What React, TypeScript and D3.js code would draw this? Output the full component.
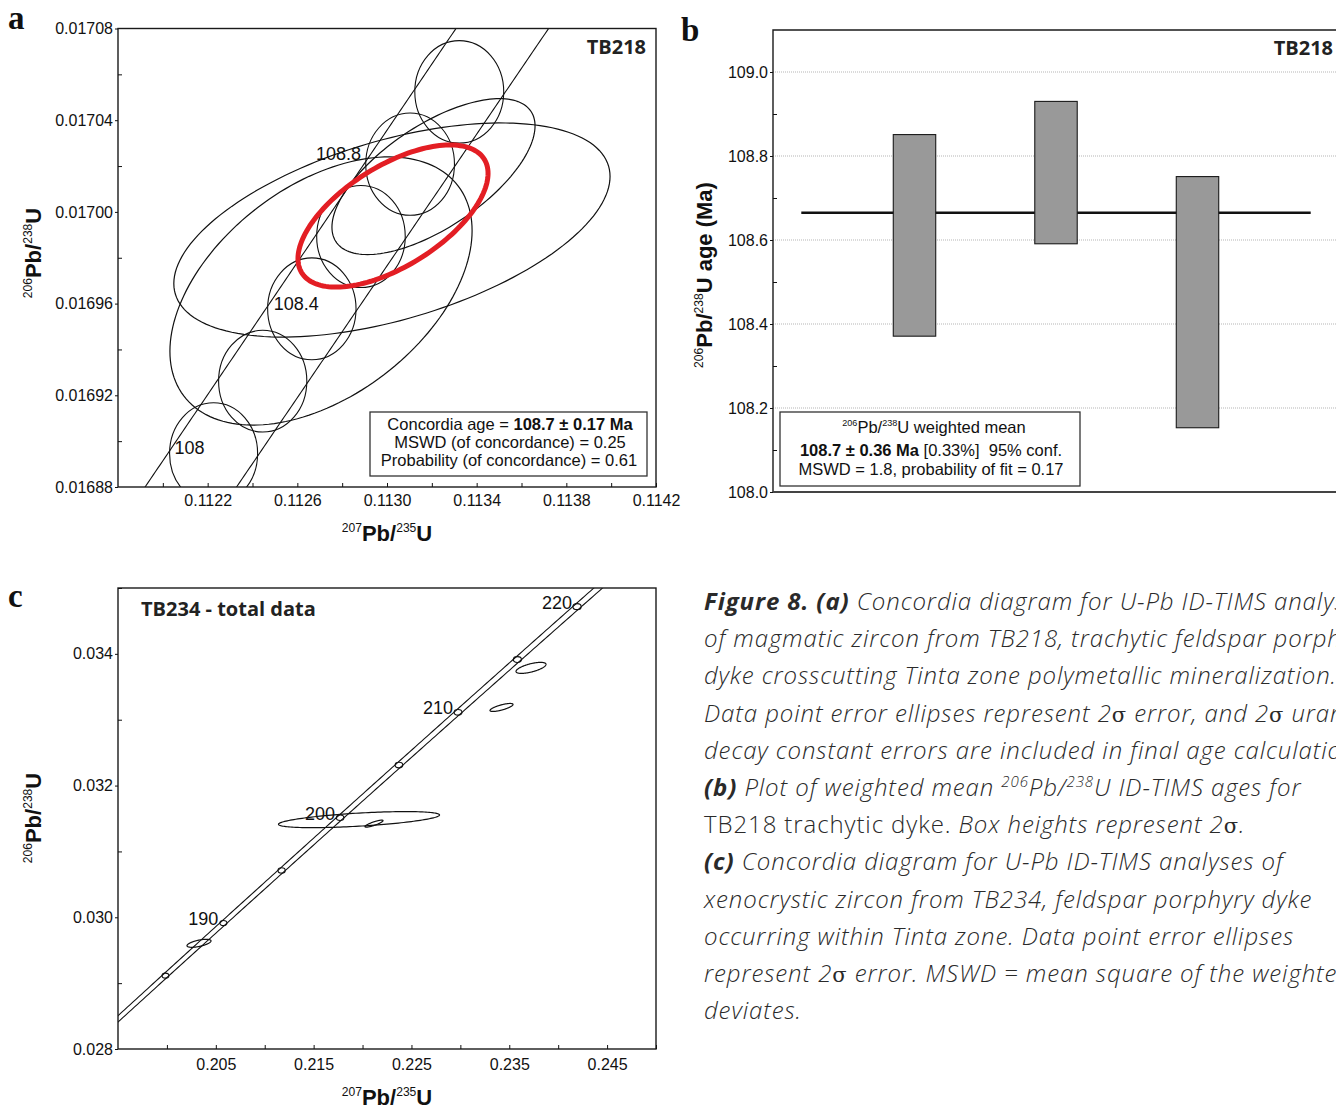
"use client";
import * as d3 from 'd3';
import { useEffect, useRef } from 'react';

const W = 1336;
const H = 1111;
const SANS = "'Liberation Sans', Arial, sans-serif";
const MYRIAD = "'Open Sans', 'Noto Sans', sans-serif";

// U decay constants (1/Ma), used for the concordia reference curve
const L238 = 1.55125e-4;
const L235 = 9.8485e-4;
// decay-constant envelope half-width and age-marker ellipse size, relative to the ratios
const BAND_REL = 0.00182;
const MARK_RX = 0.00175;
const MARK_RY = 0.00131;

// ---- a: TB218 concordia diagram
const aXTicks = [0.1122, 0.1126, 0.113, 0.1134, 0.1138, 0.1142];
const aXMinor = [0.112, 0.1124, 0.1128, 0.1132, 0.1136, 0.114];
const aYTicks = [0.01688, 0.01692, 0.01696, 0.017, 0.01704, 0.01708];
const aYMinor = [0.0169, 0.01694, 0.01698, 0.01702, 0.01706];
const aMarkers = [108, 108.2, 108.4, 108.6, 108.8, 109];
const aLabels = [108, 108.4, 108.8];
// data-point error ellipses: 207Pb/235U, 2s, 206Pb/238U, 2s, rho
const aR75 = [0.113022, 0.1127056, 0.1132074];
const aR75err = [0.000973, 0.000674, 0.000453];
const aR68 = [0.0169921, 0.0169655, 0.0170154];
const aR68err = [0.0000467, 0.0000585, 0.000034];
const aRho = [0.5, 0.45, 0.65];
// concordia age ellipse (red)
const aBest = { r75: 0.1130268, s75: 0.000424, r68: 0.0169982, s68: 0.000031, rho: 0.6 };

// ---- b: weighted mean 206Pb/238U ages
const bIndex = [1, 2, 3];
const bAge = [108.611, 108.7605, 108.452];
const bErr = [0.24, 0.1695, 0.299];
const bMean = 108.665;
const bMeanSpan = [0.2, 3.8];
const bYTicks = [108.0, 108.2, 108.4, 108.6, 108.8, 109.0];
const bYMinor = [108.1, 108.3, 108.5, 108.7, 108.9];

// ---- c: TB234 concordia, total data
const cXTicks = [0.205, 0.215, 0.225, 0.235, 0.245];
const cXMinor = [0.2, 0.21, 0.22, 0.23, 0.24, 0.25];
const cYTicks = [0.028, 0.03, 0.032, 0.034];
const cYMinor = [0.029, 0.031, 0.033, 0.035];
const cMarkers = [185, 190, 195, 200, 205, 210, 215, 220];
const cLabels = [190, 200, 210, 220];
const cR75 = [0.219638, 0.221171, 0.234206, 0.237222, 0.203281];
const cR75err = [0.00823, 0.00092, 0.001176, 0.001533, 0.001227];
const cR68 = [0.031483, 0.031422, 0.033186, 0.033787, 0.029605];
const cR68err = [0.000122, 0.0000532, 0.0000608, 0.0000837, 0.0000608];
const cRho = [0.58, 0.85, 0.75, 0.64, 0.6];

// ---- caption (style: bi bold italic, i italic, r roman, s superscript, g greek)
const caption: [string, string][][] = [
  [['Figure 8. (a)', 'bi'], [' Concordia diagram for U-Pb ID-TIMS analyses', 'i']],
  [['of magmatic zircon from TB218, trachytic feldspar porphyry', 'i']],
  [['dyke crosscutting Tinta zone polymetallic mineralization.', 'i']],
  [['Data point error ellipses represent 2', 'i'], ['σ', 'g'], [' error, and 2', 'i'], ['σ', 'g'], [' uranium', 'i']],
  [['decay constant errors are included in final age calculation.', 'i']],
  [['(b)', 'bi'], [' Plot of weighted mean ', 'i'], ['206', 's'], ['Pb/', 'i'], ['238', 's'], ['U ID-TIMS ages for', 'i']],
  [['TB218 trachytic dyke.', 'r'], [' Box heights represent 2', 'i'], ['σ', 'g'], ['.', 'i']],
  [['(c)', 'bi'], [' Concordia diagram for U-Pb ID-TIMS analyses of', 'i']],
  [['xenocrystic zircon from TB234, feldspar porphyry dyke', 'i']],
  [['occurring within Tinta zone. Data point error ellipses', 'i']],
  [['represent 2', 'i'], ['σ', 'g'], [' error. MSWD = mean square of the weighted', 'i']],
  [['deviates.', 'i']],
];

const concordia = (t: number): [number, number] => [Math.exp(L235 * t) - 1, Math.exp(L238 * t) - 1];

type Ell = { r75: number; s75: number; r68: number; s68: number; rho: number };

function ellipsePts(e: Ell, n = 160): [number, number][] {
  const k = Math.sqrt(1 - e.rho * e.rho);
  return d3.range(n).map((i) => {
    const s = (i / n) * 2 * Math.PI;
    return [e.r75 + e.s75 * Math.cos(s), e.r68 + e.s68 * (e.rho * Math.cos(s) + k * Math.sin(s))];
  });
}

// text with superscript parts: [text, 'sup' | 'b' | '']
function rich(text: any, parts: [string, string][], size: number) {
  let prevSup = false;
  parts.forEach(([t, st]) => {
    const ts = text.append('tspan').text(t);
    if (st.includes('b')) ts.attr('font-weight', 'bold');
    if (st === 'sup') {
      ts.attr('font-size', size * 0.55).attr('dy', prevSup ? 0 : -size * 0.4);
    } else if (prevSup) {
      ts.attr('dy', size * 0.4);
    }
    prevSup = st === 'sup';
  });
}

const ratioTitle = (a: string, b: string, extra = ''): [string, string][] => [
  [a, 'sup'], ['Pb/', 'b'], [b, 'sup'], ['U' + extra, 'b'],
];

function leftAxis(svg: any, y: any, left: number, major: number[], minor: number[], fmt: any, size: number) {
  svg.append('g').attr('transform', `translate(${left},0)`)
    .call(d3.axisLeft(y).tickValues(major).tickSize(3).tickPadding(2).tickFormat(fmt))
    .call((g: any) => g.select('.domain').remove())
    .call((g: any) => g.selectAll('text').attr('font-family', SANS).attr('font-size', size).attr('fill', '#111'))
    .call((g: any) => g.selectAll('line').attr('stroke', '#111'));
  svg.append('g').attr('transform', `translate(${left},0)`)
    .call(d3.axisLeft(y).tickValues(minor).tickSize(-4).tickFormat(() => ''))
    .call((g: any) => g.select('.domain').remove())
    .call((g: any) => g.selectAll('line').attr('stroke', '#111'));
}

function bottomAxis(svg: any, x: any, bottom: number, major: number[], minor: number[], fmt: any, size: number, pad: number) {
  svg.append('g').attr('transform', `translate(0,${bottom})`)
    .call(d3.axisBottom(x).tickValues(major).tickSize(-4).tickPadding(pad).tickFormat(fmt))
    .call((g: any) => g.select('.domain').remove())
    .call((g: any) => g.selectAll('text').attr('font-family', SANS).attr('font-size', size).attr('fill', '#111'))
    .call((g: any) => g.selectAll('line').attr('stroke', '#111'));
  svg.append('g').attr('transform', `translate(0,${bottom})`)
    .call(d3.axisBottom(x).tickValues(minor).tickSize(-4).tickFormat(() => ''))
    .call((g: any) => g.select('.domain').remove())
    .call((g: any) => g.selectAll('line').attr('stroke', '#111'));
}

function concordiaPanel(svg: any, o: any) {
  const x = d3.scaleLinear().domain(o.xDomain).range([o.left, o.right]);
  const y = d3.scaleLinear().domain(o.yDomain).range([o.bottom, o.top]);
  svg.append('clipPath').attr('id', o.id).append('rect')
    .attr('x', o.left).attr('y', o.top).attr('width', o.right - o.left).attr('height', o.bottom - o.top);
  const plot = svg.append('g').attr('clip-path', `url(#${o.id})`);
  const line = d3.line<[number, number]>().x((d) => x(d[0])).y((d) => y(d[1]));
  const closed = d3.line<[number, number]>().x((d) => x(d[0])).y((d) => y(d[1])).curve(d3.curveLinearClosed);

  // concordia with decay-constant error envelope
  const ts = d3.range(o.tFrom, o.tTo, o.tStep);
  [-1, 1].forEach((s) => {
    plot.append('path')
      .attr('d', line(ts.map((t) => {
        const [a, b] = concordia(t);
        return [a * (1 + s * BAND_REL), b] as [number, number];
      })))
      .attr('fill', 'none').attr('stroke', '#111').attr('stroke-width', 1.1);
  });
  o.markers.forEach((t: number) => {
    const [a, b] = concordia(t);
    plot.append('ellipse')
      .attr('cx', x(a)).attr('cy', y(b))
      .attr('rx', x(a * (1 + MARK_RX)) - x(a)).attr('ry', y(b) - y(b * (1 + MARK_RY)))
      .attr('fill', 'none').attr('stroke', '#111').attr('stroke-width', 1.1);
  });

  // age labels
  const lab = svg.append('g').attr('font-family', SANS).attr('font-size', 18).attr('fill', '#111');
  o.labels.forEach((t: number) => {
    const [a, b] = concordia(t);
    const [dx, dy] = o.labelOffset(t);
    lab.append('text').attr('x', x(a) + dx).attr('y', y(b) + dy).attr('text-anchor', 'end').text(String(t));
  });

  o.ellipses.forEach((e: Ell) => {
    plot.append('path').attr('d', closed(ellipsePts(e)))
      .attr('fill', 'none').attr('stroke', '#111').attr('stroke-width', 1.2);
  });
  if (o.best) {
    plot.append('path').attr('d', closed(ellipsePts(o.best)))
      .attr('fill', 'none').attr('stroke', '#e31e24').attr('stroke-width', 5);
  }

  svg.append('rect')
    .attr('x', o.left).attr('y', o.top).attr('width', o.right - o.left).attr('height', o.bottom - o.top)
    .attr('fill', 'none').attr('stroke', '#1a1a1a').attr('stroke-width', 1.4);

  leftAxis(svg, y, o.left, o.yTicks, o.yMinor, o.yFmt, 16);
  bottomAxis(svg, x, o.bottom, o.xTicks, o.xMinor, o.xFmt, 16, o.xPad);

  // axis titles
  rich(svg.append('text')
    .attr('transform', `translate(${o.yTitle[0]},${o.yTitle[1]}) rotate(-90)`)
    .attr('text-anchor', 'middle').attr('font-family', SANS).attr('font-size', 22).attr('fill', '#111'),
  ratioTitle('206', '238'), 22);
  rich(svg.append('text')
    .attr('x', o.xTitle[0]).attr('y', o.xTitle[1])
    .attr('text-anchor', 'middle').attr('font-family', SANS).attr('font-size', 22).attr('fill', '#111'),
  ratioTitle('207', '235'), 22);
  return { x, y };
}

function legendBox(svg: any, x: number, y: number, w: number, h: number) {
  svg.append('rect').attr('x', x).attr('y', y).attr('width', w).attr('height', h)
    .attr('fill', '#fff').attr('stroke', '#333').attr('stroke-width', 1.3);
}

function panelLetter(svg: any, t: string, x: number, y: number) {
  svg.append('text').attr('x', x).attr('y', y).attr('font-family', "'Liberation Serif', 'DejaVu Serif', serif")
    .attr('font-weight', 'bold').attr('font-size', 33).attr('fill', '#111').text(t);
}

function sampleTag(svg: any, t: string, x: number, y: number, anchor: string) {
  svg.append('text').attr('x', x).attr('y', y).attr('text-anchor', anchor).attr('font-family', MYRIAD)
    .attr('font-weight', 'bold').attr('font-size', 20).attr('fill', '#222').text(t);
}

export default function App() {
  const ref = useRef<SVGSVGElement | null>(null);

  useEffect(() => {
    if (!ref.current) return;
    const svg = d3.select(ref.current);
    svg.selectAll('*').remove();
    svg.append('rect').attr('width', W).attr('height', H).attr('fill', '#fff');

    // ---------- a
    const aEll: Ell[] = aR75.map((r75, i) => ({ r75, s75: aR75err[i], r68: aR68[i], s68: aR68err[i], rho: aRho[i] }));
    const aOff: Record<string, [number, number]> = { '108': [-9, 1], '108.4': [7, 1], '108.8': [-49, -4] };
    concordiaPanel(svg, {
      id: 'clipA', left: 118, right: 656, top: 28.5, bottom: 487,
      xDomain: [0.1118, 0.1142], yDomain: [0.01688, 0.01708],
      xTicks: aXTicks, xMinor: aXMinor, yTicks: aYTicks, yMinor: aYMinor,
      xFmt: d3.format('.4f'), yFmt: d3.format('.5f'), xPad: 8,
      tFrom: 107.4, tTo: 109.5, tStep: 0.01,
      markers: aMarkers, labels: aLabels, labelOffset: (t: number) => aOff[String(t)],
      ellipses: aEll, best: aBest,
      yTitle: [41, 253], xTitle: [387, 541],
    });
    panelLetter(svg, 'a', 8, 29);
    sampleTag(svg, 'TB218', 646, 54, 'end');
    legendBox(svg, 370, 412, 277, 64);
    const la = svg.append('g').attr('font-family', SANS).attr('font-size', 16.5).attr('fill', '#111').attr('text-anchor', 'middle');
    rich(la.append('text').attr('x', 510).attr('y', 430), [['Concordia age = ', ''], ['108.7 ± 0.17 Ma', 'b']], 16.5);
    la.append('text').attr('x', 510).attr('y', 448).text('MSWD (of concordance) = 0.25');
    la.append('text').attr('x', 509).attr('y', 466).text('Probability (of concordance) = 0.61');

    // ---------- b
    const bx = d3.scaleLinear().domain([0, 4]).range([773, 1339]);
    const by = d3.scaleLinear().domain([108.0, 109.1]).range([492, 30]);
    svg.append('g').selectAll('line').data(bYTicks.slice(1)).enter().append('line')
      .attr('x1', 773).attr('x2', 1339).attr('y1', (d) => by(d)).attr('y2', (d) => by(d))
      .attr('stroke', '#b5b5b5').attr('stroke-width', 1).attr('stroke-dasharray', '1,1');
    svg.append('line').attr('x1', bx(bMeanSpan[0])).attr('x2', bx(bMeanSpan[1]))
      .attr('y1', by(bMean)).attr('y2', by(bMean)).attr('stroke', '#111').attr('stroke-width', 2.6);
    const barW = bx(0.3) - bx(0);
    svg.append('g').selectAll('rect').data(bIndex).enter().append('rect')
      .attr('x', (d) => bx(d) - barW / 2)
      .attr('y', (_d, i) => by(bAge[i] + bErr[i]))
      .attr('width', barW)
      .attr('height', (_d, i) => by(bAge[i] - bErr[i]) - by(bAge[i] + bErr[i]))
      .attr('fill', '#999999').attr('stroke', '#1a1a1a').attr('stroke-width', 1.1);
    svg.append('path').attr('d', `M${bx(4)},${by(109.1)}H${bx(0)}V${by(108)}H${bx(4)}`)
      .attr('fill', 'none').attr('stroke', '#1a1a1a').attr('stroke-width', 1.4);
    svg.append('line').attr('x1', 773).attr('x2', 1339).attr('y1', by(108)).attr('y2', by(108))
      .attr('stroke', '#444').attr('stroke-width', 2.2);
    leftAxis(svg, by, 773, bYTicks, bYMinor, d3.format('.1f'), 16);
    rich(svg.append('text')
      .attr('transform', `translate(712,275) rotate(-90)`)
      .attr('text-anchor', 'middle').attr('font-family', SANS).attr('font-size', 22).attr('fill', '#111'),
    ratioTitle('206', '238', ' age (Ma)'), 22);
    panelLetter(svg, 'b', 681, 41);
    sampleTag(svg, 'TB218', 1333, 55, 'end');
    legendBox(svg, 780, 412, 300, 74);
    const lb = svg.append('g').attr('font-family', SANS).attr('font-size', 16.5).attr('fill', '#111').attr('text-anchor', 'middle');
    rich(lb.append('text').attr('x', 934).attr('y', 433), [['206', 'sup'], ['Pb/', ''], ['238', 'sup'], ['U weighted mean', '']], 16.5);
    rich(lb.append('text').attr('x', 931).attr('y', 456), [['108.7 ± 0.36 Ma', 'b'], [' [0.33%] \u00a095% conf.', '']], 16.5);
    lb.append('text').attr('x', 931).attr('y', 475).text('MSWD = 1.8, probability of fit = 0.17');

    // ---------- c
    const cEll: Ell[] = cR75.map((r75, i) => ({ r75, s75: cR75err[i], r68: cR68[i], s68: cR68err[i], rho: cRho[i] }));
    concordiaPanel(svg, {
      id: 'clipC', left: 118, right: 656, top: 588, bottom: 1049,
      xDomain: [0.195, 0.25], yDomain: [0.028, 0.035],
      xTicks: cXTicks, xMinor: cXMinor, yTicks: cYTicks, yMinor: cYMinor,
      xFmt: d3.format('.3f'), yFmt: d3.format('.3f'), xPad: 10,
      tFrom: 170, tTo: 235, tStep: 0.25,
      markers: cMarkers, labels: cLabels, labelOffset: () => [-5, 2],
      ellipses: cEll, best: null,
      yTitle: [41, 818], xTitle: [387, 1105],
    });
    panelLetter(svg, 'c', 8, 607);
    sampleTag(svg, 'TB234 - total data', 141, 616, 'start');

    // ---------- caption
    const cap = svg.append('g').attr('font-family', MYRIAD).attr('font-size', 24).attr('font-weight', 300)
      .attr('letter-spacing', 0.9).attr('fill', '#2a2a2a');
    caption.forEach((parts, li) => {
      const t = cap.append('text').attr('x', 704).attr('y', 610 + li * 37.2);
      let prevSup = false;
      parts.forEach(([s, st]) => {
        const ts = t.append('tspan').text(s);
        if (st === 'bi') ts.attr('font-weight', 700).attr('font-style', 'italic');
        else if (st === 'i' || st === 's') ts.attr('font-style', 'italic');
        if (st === 's') ts.attr('font-size', 15).attr('dy', prevSup ? 0 : -9);
        else if (prevSup) ts.attr('dy', 9);
        if (st === 'g') ts.attr('font-family', "'DejaVu Serif', serif").attr('font-size', 21).attr('font-weight', 400);
        prevSup = st === 's';
      });
    });
  }, []);

  return (
    <svg
      ref={ref}
      width={W}
      height={H}
      style={{ position: 'absolute', left: 0, top: 0, display: 'block' }}
      role="img"
      aria-label="U-Pb ID-TIMS concordia and weighted mean plots"
    />
  );
}
